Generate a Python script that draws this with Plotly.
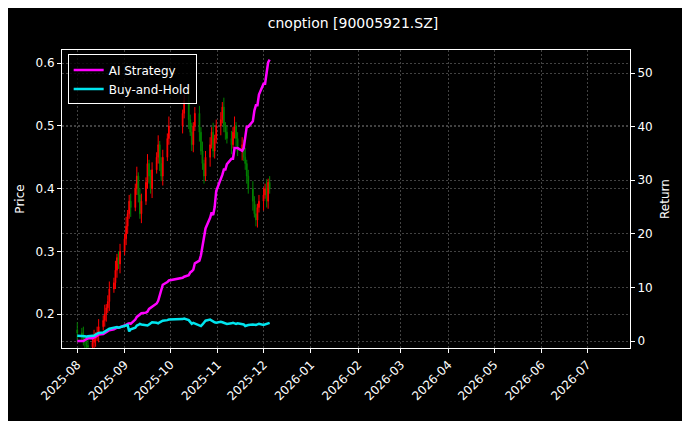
import pandas as pd
import plotly.graph_objects as go

dates = [d for d in pd.bdate_range("2025-08-01", "2025-12-05")
         if not (pd.Timestamp("2025-10-01") <= d <= pd.Timestamp("2025-10-08"))]

closes = [0.17,0.165,0.16,0.155,0.15,0.148,0.155,0.16,0.165,0.17,0.18,0.19,0.2,0.21,0.22,0.24,0.25,0.27,0.29,0.28,0.3,
          0.32,0.34,0.36,0.38,0.37,0.40,0.42,0.39,0.36,0.38,0.41,0.44,0.42,0.40,0.43,0.45,0.47,0.44,0.42,0.45,0.48,0.50,
          0.52,0.54,0.51,0.49,0.47,0.5,0.52,0.49,0.46,0.44,0.42,0.45,0.47,0.49,0.46,0.48,0.5,
          0.51,0.53,0.5,0.49,0.48,0.47,0.49,0.5,0.48,0.46,0.47,0.45,0.44,0.42,0.40,0.38,0.36,0.35,0.37,0.38,
          0.39,0.40,0.38,0.41,0.40]
opens = [0.175] + closes[:-1]
wicks = [0.012, 0.008, 0.015, 0.006, 0.01]
highs = [max(o, c) + wicks[i % 5] for i, (o, c) in enumerate(zip(opens, closes))]
lows = [min(o, c) - wicks[(i + 2) % 5] for i, (o, c) in enumerate(zip(opens, closes))]

strategy = [0,0,0,0.2,0.3,0.5,0.5,0.6,0.8,1,1.2,1.3,1.5,1.6,1.8,2,2.2,2.4,2.5,2.5,2.6,
            2.8,3,3.2,3.3,3.2,4,4.5,4.8,5,5.2,5.3,5.5,6,6.2,6.5,7,7.5,8.5,9.5,10.5,11,11.3,
            11.8,12,12.3,12.8,13,13.3,14.5,15,16,17.5,19,21,23,24,23.5,25,28,
            30,31,32,32,33,34,34,36,36,36,35.5,36,38,40,40,41,43,44,44,46,
            48,48,50,52,52.5]
buyhold = [1,1,1,0.9,0.8,0.9,1,1,1.2,1.3,1.5,1.6,1.8,2,2.1,2.3,2.5,2.6,2.6,2.5,2.6,
           2.8,2.9,3.0,1.8,2.2,2.5,2.9,3.0,3.2,3.1,3.0,2.9,3.1,3.3,3.5,3.4,3.3,3.5,3.6,3.8,3.9,4.0,
           4.1,4.2,3.9,3.5,3.2,3.4,3.3,3.0,2.8,3.1,3.5,3.8,4.0,3.8,3.6,3.5,3.4,
           3.6,3.5,3.4,3.3,3.2,3.3,3.4,3.3,3.2,3.3,3.2,3.1,2.8,2.9,3.0,3.1,3.0,3.0,3.1,3.2,
           3.0,3.1,3.2,3.3,3.4]

fig = go.Figure()
fig.add_trace(go.Candlestick(x=dates, open=opens, high=highs, low=lows, close=closes,
                             increasing=dict(line=dict(color="red", width=1), fillcolor="red"),
                             decreasing=dict(line=dict(color="green", width=1), fillcolor="green"),
                             whiskerwidth=0, showlegend=False, yaxis="y"))
fig.add_trace(go.Scatter(x=dates, y=strategy, mode="lines", name="AI Strategy",
                         line=dict(color="#ff00ff", width=2.5), yaxis="y2"))
fig.add_trace(go.Scatter(x=dates, y=buyhold, mode="lines", name="Buy-and-Hold",
                         line=dict(color="#00e5ee", width=2.5), yaxis="y2"))

grid = "rgba(110,110,110,0.6)"
common = dict(showgrid=True, gridcolor=grid, griddash="2px,2px", gridwidth=0.6, showline=True,
              linecolor="white", ticks="outside", tickcolor="white", ticklen=4, zeroline=False,
              automargin=False, tickfont=dict(size=12))
fig.update_layout(
    width=690, height=421, paper_bgcolor="black", plot_bgcolor="black",
    font=dict(family="DejaVu Sans", color="white", size=12),
    title=dict(text="cnoption [90005921.SZ]", x=0.5, y=0.975, yanchor="top", xanchor="center", font=dict(size=14)),
    margin=dict(l=54, r=68, t=42, b=81),
    xaxis=dict(type="date", range=["2025-07-22", "2026-07-29"], dtick="M1", tickformat="%Y-%m",
               tick0="2025-08-01", tickangle=-45, rangeslider=dict(visible=False), mirror=True, **common),
    yaxis=dict(title=dict(text="Price", standoff=8, font=dict(size=12)), range=[0.146, 0.621], dtick=0.1,
               tickformat=".1f", **common),
    yaxis2=dict(title=dict(text="Return", standoff=8, font=dict(size=12)), overlaying="y", side="right",
                range=[-1.3, 54.3], dtick=10, **common),
    legend=dict(x=0.01, y=0.985, xanchor="left", yanchor="top", bgcolor="rgba(0,0,0,0.8)",
                bordercolor="white", borderwidth=1, font=dict(size=12)),
)
fig.write_html("out.html")
